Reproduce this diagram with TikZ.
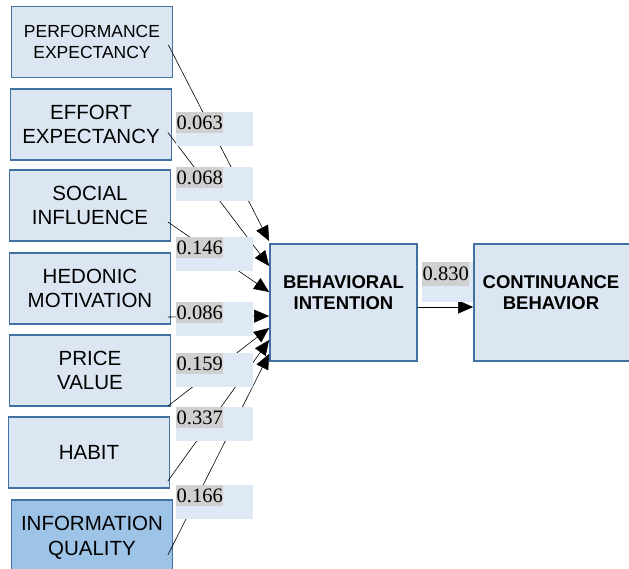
\documentclass[tikz,border=0pt]{standalone}
\usepackage{fontspec}
\setmainfont{Liberation Serif}
\setsansfont{Liberation Sans}
\usetikzlibrary{positioning, arrows.meta}
\definecolor{boxfill}{RGB}{220,230,242}
\definecolor{boxline}{RGB}{65,113,160}
\definecolor{infofill}{RGB}{157,195,230}
\definecolor{tagfill}{RGB}{222,233,245}
\definecolor{numgrey}{RGB}{208,208,208}
\tikzset{
    %Define style for construct boxes
    construct/.style={
           rectangle,
           draw=boxline, line width=1.8pt,
           fill=boxfill,
           minimum width=161pt,
           minimum height=71pt,
           inner sep=0pt,
           align=center,
           font=\sffamily\fontsize{20.5}{24.5}\selectfont},
 %
  outcome/.style={
           rectangle,
           draw=boxline, line width=1.8pt,
           fill=boxfill,
           minimum height=117pt,
           inner sep=0pt},
 %
  outcometext/.style={
           align=center,
           font=\sffamily\bfseries\fontsize{18.5}{21}\selectfont},
 %
    % Define style for path coefficients
    coefbox/.style={
           rectangle,
           fill=tagfill,
           minimum width=77pt,
           minimum height=34pt,
           inner sep=0pt,
           anchor=north west},
 %
    coefnum/.style={
           rectangle,
           fill=numgrey,
           minimum width=47pt,
           minimum height=21pt,
           inner sep=0.3pt,
           anchor=north west,
           font=\fontsize{20.5}{22}\selectfont},
 %
    % Define arrow style
    path/.style={
           -{Triangle[length=15pt,width=13pt]},
           line width=0.6pt,
           black}
}

\begin{document}
\begin{tikzpicture}[x=1pt,y=-1pt]
  \useasboundingbox (0,0) rectangle (629,569);

  % constructs
  \node[construct, font=\sffamily\fontsize{17.5}{20.5}\selectfont] (perf) at (92,42) {PERFORMANCE\\EXPECTANCY};
  \node[construct] (effort) at (91,124.5) {EFFORT\\EXPECTANCY};
  \node[construct] (social) at (90,205.5) {SOCIAL\\INFLUENCE};
  \node[construct] (hedonic) at (90,288.5) {HEDONIC\\MOTIVATION};
  \node[construct] (price) at (90,370.5) {PRICE\\VALUE};
  \node[construct] (habit) at (89,452.5) {HABIT};
  \node[construct, fill=infofill, minimum height=80pt,
        label={[construct, draw=none, fill=none, yshift=2pt]center:{INFORMATION\\QUALITY}}] (info) at (92,540) {};

  \node[outcome, minimum width=147pt,
        label={[outcometext, yshift=9.5pt]center:{BEHAVIORAL\\INTENTION}}] (intent) at (343.5,302.5) {};
  \node[outcome, minimum width=170pt,
        label={[outcometext, xshift=-8pt, yshift=9.5pt]center:{CONTINUANCE\\BEHAVIOR}}] (contin) at (559,302.5) {};

  \path[path]
    ([xshift=-5pt,yshift=-3pt]perf.east) edge ([yshift=61.5pt]intent.west)
    ([xshift=-4.5pt,yshift=-8pt]effort.east) edge ([yshift=36.5pt]intent.west)
    ([xshift=-3.5pt,yshift=-16.5pt]social.east) edge ([yshift=10.5pt]intent.west)
    ([xshift=-3.5pt,yshift=-28.5pt]hedonic.east) edge ([yshift=-13.5pt]intent.west)
    ([xshift=-3.5pt,yshift=-35.5pt]price.east) edge ([yshift=-25.5pt]intent.west)
    ([xshift=-2.5pt,yshift=-28.5pt]habit.east) edge ([yshift=-37.5pt]intent.west)
    ([xshift=-5.5pt,yshift=-15pt]info.east) edge ([yshift=-51.5pt]intent.west)
    ([yshift=-4.5pt]intent.east) edge ([yshift=-4.5pt]contin.west);

  % path coefficients
  \foreach \name/\top/\val in {pe/112/0.063, ee/167/0.068, si/237/0.146, hm/302/0.086,
                               pv/353/0.159, hb/407/0.337, iq/485/0.166}{
    \node[coefbox] (c\name) at (176,\top) {};
    \node[coefnum] (n\name) at (c\name.north west) {\val};
  }
  \node[coefbox, minimum width=51pt, minimum height=40pt] (cbi) at (422,262) {};
  \node[coefnum, minimum height=24pt] (nbi) at (cbi.north west) {0.830};
\end{tikzpicture}
\end{document}
